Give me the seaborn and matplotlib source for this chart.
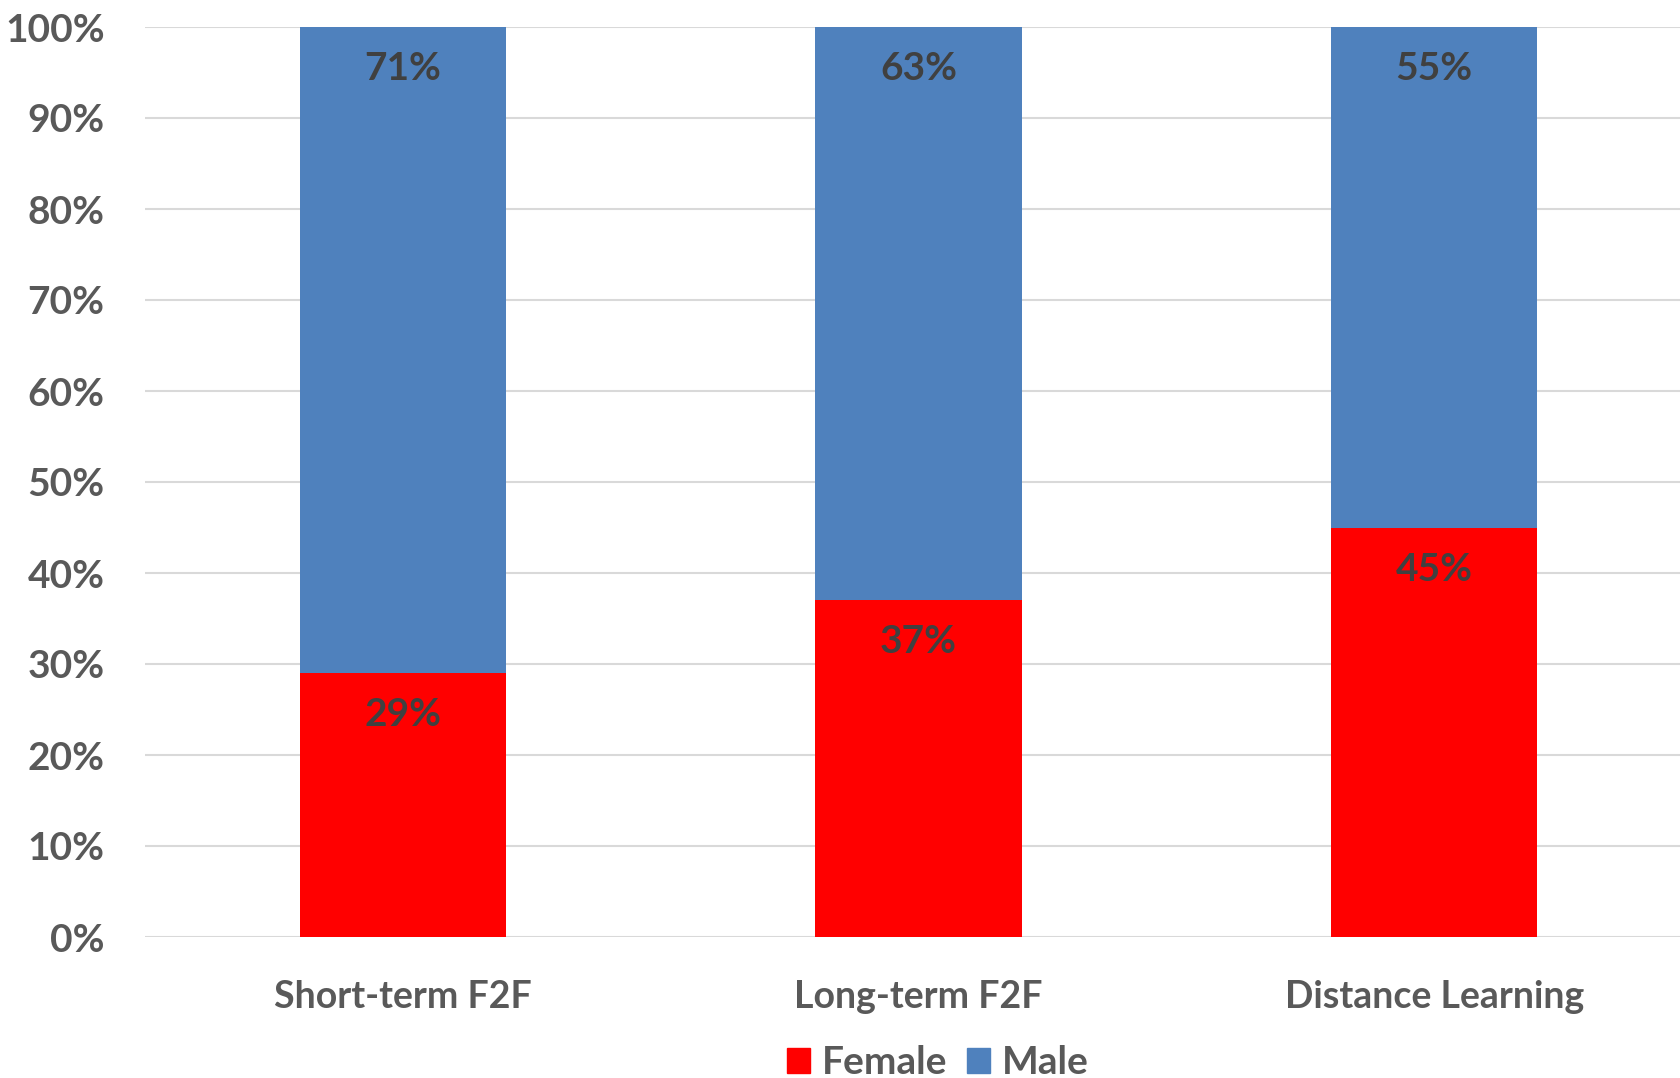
import matplotlib
matplotlib.use("Agg")
import matplotlib.pyplot as plt
from matplotlib.patches import Patch
import seaborn as sns
import pandas as pd

# chart data
categories = ["Short-term F2F", "Long-term F2F", "Distance Learning"]
female = [29, 37, 45]
male = [71, 63, 55]
yticks = [0, 10, 20, 30, 40, 50, 60, 70, 80, 90, 100]

sns.set_style("white")
plt.rcParams["font.family"] = ["Lato", "DejaVu Sans"]
plt.rcParams["font.weight"] = "bold"

df = pd.DataFrame({"category": categories, "female": female, "male": male})
df["total"] = df["female"] + df["male"]

fig = plt.figure(figsize=(16.8, 10.78), dpi=100)
ax = fig.add_axes([145 / 1680, 1 - 937 / 1078, 1547 / 1680, 910 / 1078])

# stacked bars: full height in blue, female share drawn on top in red
sns.barplot(data=df, x="category", y="total", color="#4f81bd", width=0.4,
            saturation=1, linewidth=0, ax=ax, zorder=2)
sns.barplot(data=df, x="category", y="female", color="#ff0000", width=0.4,
            saturation=1, linewidth=0, ax=ax, zorder=3)

for i, row in df.iterrows():
    ax.annotate(f"{row['female']}%", xy=(i, row["female"]), xytext=(0, -30),
                textcoords="offset points", ha="center", va="center",
                fontsize=28, fontweight="bold", color="#404040", zorder=5)
    ax.annotate(f"{row['male']}%", xy=(i, row["total"]), xytext=(0, -30),
                textcoords="offset points", ha="center", va="center",
                fontsize=28, fontweight="bold", color="#404040", zorder=5)

ax.set_xlim(-0.5, 2.5)
ax.set_ylim(0, 100)
ax.set_yticks(yticks)
ax.set_yticklabels([f"{t}%" for t in yticks])
ax.yaxis.grid(True, color="#d9d9d9", linewidth=1.5, zorder=0)
ax.set_axisbelow(True)
for s in ax.spines.values():
    s.set_visible(False)
ax.axhline(0, color="#d9d9d9", linewidth=2, zorder=1)
ax.tick_params(axis="y", length=0, pad=29, labelsize=28, labelcolor="#595959")
ax.tick_params(axis="x", length=0, pad=31, labelsize=27, labelcolor="#595959")
ax.set_xlabel("")
ax.set_ylabel("")

handles = [Patch(color="#ff0000", label="Female"), Patch(color="#4f81bd", label="Male")]
leg = fig.legend(handles=handles, loc="center", bbox_to_anchor=(938 / 1680, 1 - 1063 / 1078),
                 ncol=2, frameon=False, fontsize=28, handlelength=0.6, handleheight=0.6,
                 handletextpad=0.3, columnspacing=0.5, borderpad=0)
for t in leg.get_texts():
    t.set_color("#595959")
    t.set_fontweight("bold")

fig.savefig("out.png", dpi=100)
